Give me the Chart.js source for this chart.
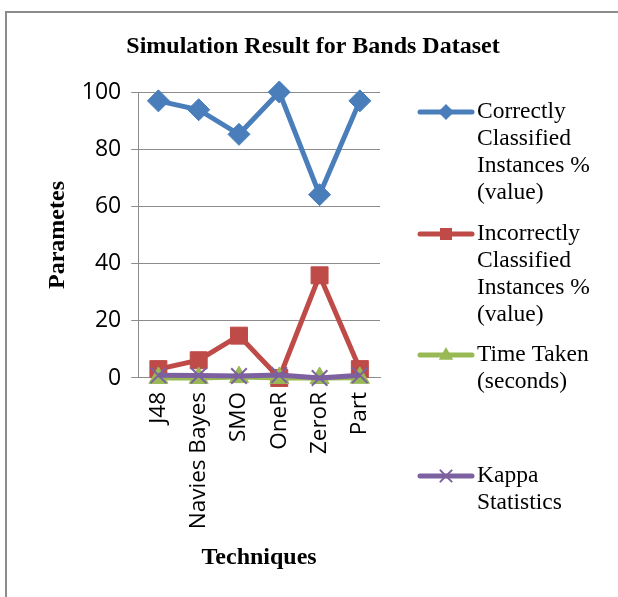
<!DOCTYPE html>
<html lang="en">
  <head>
    <meta charset="UTF-8" />
    <title>Simulation Result for Bands Dataset</title>
    <script src="https://cdn.jsdelivr.net/npm/chart.js"></script>
    <style>
      body { margin: 0; background: #fff; }
    </style>
  </head>
  <body>
    <canvas id="bandsChart" width="618" height="597"></canvas>
    <script>
      const techniques = ['J48', 'Navies Bayes', 'SMO', 'OneR', 'ZeroR', 'Part'];
      const correctlyClassified = [96.9, 93.8, 85.2, 100, 64.1, 96.9];
      const incorrectlyClassified = [3.1, 6.2, 14.8, 0, 35.9, 3.1];
      const timeTaken = [0.02, 0.01, 0.3, 0.01, 0, 0.05];
      const kappaStatistics = [0.93, 0.87, 0.69, 1, 0, 0.93];
      const yTicks = [0, 20, 40, 60, 80, 100];

      const legendLines = [
        ['Correctly', 'Classified', 'Instances %', '(value)'],
        ['Incorrectly', 'Classified', 'Instances %', '(value)'],
        ['Time Taken', '(seconds)'],
        ['Kappa', 'Statistics'],
      ];

      const serif = '"Liberation Serif", "Times New Roman", serif';
      const sans = '"Open Sans", "DejaVu Sans", sans-serif';
      const gridColor = '#8c8c8c';

      const mkSet = (label, data, color, style, radius, order) => ({
        label: label,
        data: data,
        borderColor: color,
        backgroundColor: color,
        borderWidth: 5,
        pointStyle: style,
        pointRadius: radius,
        pointHoverRadius: radius,
        pointBorderWidth: style === 'crossRot' ? 2 : 1,
        tension: 0,
        clip: false,
        order: order,
      });

      const datasets = [
        mkSet(legendLines[0].join(' '), correctlyClassified, '#4a7ebb', 'rectRot', 11, 3),
        mkSet(legendLines[1].join(' '), incorrectlyClassified, '#be4b48', 'rect', 12, 2),
        mkSet(legendLines[2].join(' '), timeTaken, '#98b954', 'triangle', 11, 1),
        mkSet(legendLines[3].join(' '), kappaStatistics, '#7d60a0', 'crossRot', 11, 0),
      ];

      const drawMarker = (ctx, style, x, y, r, color) => {
        ctx.save();
        ctx.fillStyle = color;
        ctx.strokeStyle = color;
        ctx.beginPath();
        if (style === 'rectRot') {
          ctx.moveTo(x, y - r); ctx.lineTo(x + r, y); ctx.lineTo(x, y + r); ctx.lineTo(x - r, y);
          ctx.closePath(); ctx.fill();
        } else if (style === 'rect') {
          const s = r * 0.75;
          ctx.rect(x - s, y - s, 2 * s, 2 * s); ctx.fill();
        } else if (style === 'triangle') {
          ctx.moveTo(x, y - r); ctx.lineTo(x + r * 0.9, y + r * 0.6); ctx.lineTo(x - r * 0.9, y + r * 0.6);
          ctx.closePath(); ctx.fill();
        } else {
          const s = r * 0.7;
          ctx.lineWidth = 2;
          ctx.moveTo(x - s, y - s); ctx.lineTo(x + s, y + s);
          ctx.moveTo(x + s, y - s); ctx.lineTo(x - s, y + s);
          ctx.stroke();
        }
        ctx.restore();
      };

      const decorations = {
        id: 'decorations',
        afterDraw: (chart) => {
          const ctx = chart.ctx;
          ctx.save();
          // outer frame
          ctx.strokeStyle = '#8c8c8c';
          ctx.lineWidth = 2;
          ctx.beginPath();
          ctx.moveTo(6, chart.height);
          ctx.lineTo(6, 12);
          ctx.lineTo(chart.width, 12);
          ctx.stroke();

          // title
          ctx.fillStyle = '#000';
          ctx.font = 'bold 24px ' + serif;
          ctx.textAlign = 'center';
          ctx.textBaseline = 'middle';
          ctx.fillText('Simulation Result for Bands Dataset', 313, 47);

          // legend
          const tops = [112, 234, 355, 476];
          ctx.font = '23.5px ' + serif;
          ctx.textAlign = 'left';
          chart.data.datasets.forEach((ds, i) => {
            const y = tops[i];
            ctx.strokeStyle = ds.borderColor;
            ctx.lineWidth = 5;
            ctx.lineCap = 'round';
            ctx.beginPath();
            ctx.moveTo(420, y);
            ctx.lineTo(472, y);
            ctx.stroke();
            drawMarker(ctx, ds.pointStyle, 446, y, 8, ds.borderColor);
            ctx.fillStyle = '#000';
            legendLines[i].forEach((line, j) => {
              ctx.fillText(line, 477, y + j * 27);
            });
          });
          ctx.restore();
        },
      };

      new Chart(document.getElementById('bandsChart'), {
        type: 'line',
        data: { labels: techniques, datasets: datasets },
        options: {
          responsive: false,
          animation: false,
          layout: { padding: { left: 43, right: 238, top: 92, bottom: 25 } },
          plugins: {
            legend: { display: false },
            title: { display: false },
            tooltip: { enabled: false },
          },
          scales: {
            x: {
              offset: true,
              grid: { display: false, drawTicks: false, offset: true },
              border: { color: gridColor, width: 1 },
              ticks: {
                color: '#000',
                font: { family: sans, size: 22.5 },
                minRotation: 90,
                maxRotation: 90,
                padding: 14,
              },
              title: {
                display: true,
                text: 'Techniques',
                color: '#000',
                font: { family: serif, size: 24, weight: 'bold' },
                padding: { top: 0, bottom: 0 },
              },
            },
            y: {
              min: 0,
              max: 100,
              afterBuildTicks: (axis) => {
                axis.ticks = yTicks.map((v) => ({ value: v }));
              },
              grid: { color: gridColor, lineWidth: 1, tickLength: 7 },
              border: { color: gridColor, width: 1 },
              ticks: {
                color: '#000',
                font: { family: sans, size: 23 },
                padding: 10,
              },
              title: {
                display: true,
                text: 'Parametes',
                color: '#000',
                font: { family: serif, size: 24, weight: 'bold' },
                padding: { top: 0, bottom: 0 },
              },
            },
          },
        },
        plugins: [decorations],
      });
    </script>
  </body>
</html>
